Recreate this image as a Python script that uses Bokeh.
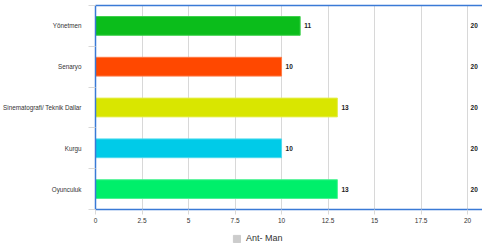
from bokeh.plotting import figure
from bokeh.models import (ColumnDataSource, Range1d, FixedTicker, LinearAxis, Legend, LegendItem,
                          LabelSet)
from bokeh.layouts import column
from bokeh.core.properties import value
from bokeh.embed import file_html
from bokeh.resources import INLINE

categories = ["Yönetmen", "Senaryo", "Sinematografi/ Teknik Dallar", "Kurgu", "Oyunculuk"]
values = [11, 10, 13, 10, 13]
max_values = [20, 20, 20, 20, 20]
colors = ["#0bbd1b", "#ff4800", "#d9e600", "#00cbe8", "#00ef6a"]
edge_colors = ["#3fd04c", "#ff7a45", "#e4ee4a", "#4ddaee", "#4cf394"]
series_name = "Ant- Man"
x_ticks = [0, 2.5, 5, 7.5, 10, 12.5, 15, 17.5, 20]

n = len(categories)
pos = [i + 0.5 for i in range(n)]

src = ColumnDataSource(dict(y=pos, v=values, m=max_values, c=colors, e=edge_colors,
                            vl=[str(v) for v in values], ml=[str(m) for m in max_values]))

FONT = "Liberation Sans"
BLUE = "#3a7ad6"

p = figure(width=482, height=228, output_backend="svg", toolbar_location=None,
           x_range=Range1d(0, 20.8), y_range=Range1d(n, 0),
           x_axis_location=None, y_axis_location=None,
           min_border_left=95, min_border_right=0, min_border_top=5, min_border_bottom=19)
p.outline_line_color = None
p.background_fill_color = "white"

r = p.hbar(y="y", right="v", left=0, height=0.46, source=src, fill_color="c", line_color="e",
           line_width=1)

p.add_layout(LabelSet(x="v", y="y", text="vl", source=src, x_offset=4, y_offset=0,
                      text_font=value(FONT), text_font_size="6.5px", text_font_style="bold",
                      text_baseline="middle", text_color="#222222"))
p.add_layout(LabelSet(x="m", y="y", text="ml", source=src, x_offset=3, y_offset=0,
                      text_font=value(FONT), text_font_size="6.5px", text_font_style="bold",
                      text_baseline="middle", text_color="#222222"))

# axes
xa = LinearAxis(ticker=FixedTicker(ticks=x_ticks),
                major_label_overrides={t: (str(int(t)) if t == int(t) else str(t)) for t in x_ticks})
xa.axis_line_color = BLUE
xa.axis_line_width = 1.5
xa.major_tick_line_color = "#d8d8d8"
xa.major_tick_out = 5
xa.major_tick_in = 0
xa.minor_tick_line_color = None
xa.major_label_text_font = FONT
xa.major_label_text_font_size = "6.5px"
xa.major_label_text_color = "#333333"
xa.major_label_standoff = 3
p.add_layout(xa, "below")

ya = LinearAxis(ticker=FixedTicker(ticks=pos, minor_ticks=list(range(n + 1))),
                major_label_overrides={pp: c for pp, c in zip(pos, categories)})
ya.axis_line_color = BLUE
ya.axis_line_width = 1.5
ya.major_tick_line_color = None
ya.major_tick_out = 0
ya.major_tick_in = 0
ya.minor_tick_line_color = "#d8d8d8"
ya.minor_tick_out = 7
ya.minor_tick_in = 0
ya.major_label_text_font = FONT
ya.major_label_text_font_size = "6.3px"
ya.major_label_text_color = "#333333"
ya.major_label_standoff = 7
p.add_layout(ya, "left")

ta = LinearAxis(ticker=FixedTicker(ticks=x_ticks))
ta.axis_line_color = BLUE
ta.axis_line_width = 1.5
ta.major_label_text_font_size = "0px"
ta.major_label_text_color = None
ta.major_tick_line_color = None
ta.minor_tick_line_color = None
ta.major_tick_out = 0
ta.major_tick_in = 0
ta.major_label_standoff = 0
p.add_layout(ta, "above")

p.xgrid.ticker = FixedTicker(ticks=x_ticks)
p.xgrid.grid_line_color = "#d8d8d8"
p.xgrid.grid_line_width = 1
p.ygrid.grid_line_color = None

# legend in a small strip below
p2 = figure(width=482, height=22, output_backend="svg", toolbar_location=None,
            x_range=Range1d(0, 1), y_range=Range1d(0, 1),
            x_axis_location=None, y_axis_location=None,
            min_border_left=0, min_border_right=0, min_border_top=0, min_border_bottom=0)
p2.outline_line_color = None
p2.xgrid.visible = False
p2.ygrid.visible = False
proxy = p2.hbar(y=[float("nan")], right=[float("nan")], left=0, height=0.5,
                fill_color="#cccccc", line_color="#cccccc")
legend = Legend(items=[LegendItem(label=series_name, renderers=[proxy])],
                orientation="horizontal", location=(137, 7),
                label_text_font=FONT, label_text_font_size="9px", label_text_color="#333333",
                glyph_width=9, glyph_height=9, label_height=9, label_standoff=5,
                padding=2, margin=0, border_line_color=None, background_fill_alpha=0)
p2.add_layout(legend, "center")

open("out.html", "w").write(file_html(column(p, p2, spacing=0), INLINE))
